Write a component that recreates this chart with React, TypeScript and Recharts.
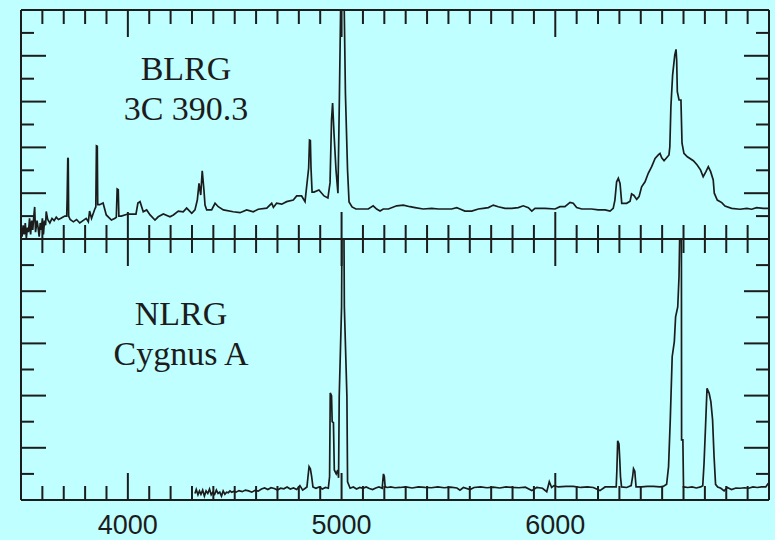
import React from "react";
import { LineChart, Line, XAxis, YAxis } from "recharts";

const INK = "#1c1c1c";
const BG = "#c0ffff";

// BLRG 3C 390.3 spectrum (wavelength in Å, relative flux)
const blrgWave = [
  3500, 3505, 3510, 3515, 3520, 3525, 3530, 3535, 3540, 3545,
  3550, 3555, 3560, 3564, 3568, 3575, 3580, 3585, 3590, 3595,
  3600, 3605, 3610, 3615, 3618, 3625, 3635, 3645, 3655, 3665,
  3675, 3685, 3695, 3705, 3714, 3716, 3719, 3721, 3723, 3730,
  3745, 3760, 3775, 3790, 3805, 3815, 3821, 3830, 3845, 3850,
  3853, 3857, 3859, 3868, 3884, 3899, 3923, 3938, 3946, 3950,
  3955, 3958, 3969, 4000, 4038, 4047, 4057, 4072, 4088, 4104,
  4127, 4142, 4166, 4197, 4213, 4236, 4259, 4275, 4299, 4314,
  4325, 4333, 4341, 4348, 4356, 4361, 4369, 4392, 4408, 4423,
  4447, 4493, 4525, 4556, 4587, 4610, 4650, 4673, 4681, 4696,
  4720, 4743, 4774, 4790, 4813, 4829, 4846, 4850, 4854, 4857,
  4862, 4871, 4894, 4918, 4936, 4946, 4953, 4958, 4965, 4974,
  4983, 4990, 4997, 5011, 5018, 5028, 5035, 5049, 5067, 5078,
  5102, 5125, 5148, 5164, 5180, 5195, 5219, 5258, 5289, 5320,
  5344, 5382, 5422, 5453, 5484, 5515, 5539, 5554, 5577, 5609,
  5640, 5663, 5687, 5710, 5733, 5765, 5796, 5827, 5850, 5874,
  5890, 5905, 5952, 5999, 6022, 6045, 6069, 6084, 6100, 6124,
  6170, 6201, 6233, 6256, 6271, 6279, 6287, 6295, 6303, 6311,
  6334, 6350, 6357, 6368, 6381, 6392, 6404, 6420, 6435, 6451,
  6467, 6482, 6490, 6498, 6509, 6521, 6532, 6536, 6541, 6549,
  6559, 6565, 6568, 6571, 6579, 6588, 6593, 6602, 6618, 6646,
  6664, 6680, 6692, 6705, 6716, 6727, 6739, 6744, 6758, 6779,
  6794, 6825, 6864, 6896, 6919, 6942, 6973, 7000,
];
const blrgFlux = [
  0.4, 0.1, 0.6, 0.2, 0.7, 0.05, 0.5, 0.3, 0.9, 0.2,
  0.8, 0.4, 1.0, 1.4, 0.3, 0.8, 0.5, 0.1, 0.7, 0.4,
  0.9, 0.2, 0.8, 0.6, 1.2, 0.85, 0.7, 0.9, 0.8, 0.95,
  0.85, 0.9, 0.95, 1.0, 1.0, 1.8, 3.55, 3.5, 1.0, 0.85,
  0.75, 0.85, 0.7, 0.8, 0.9, 0.75, 1.22, 0.9, 1.3, 1.4,
  4.07, 4.05, 1.5, 1.5, 1.57, 1.05, 0.83, 0.9, 0.95, 2.18,
  2.15, 1.0, 1.0, 1.09, 1.09, 1.57, 1.63, 1.19, 1.27, 1.05,
  0.83, 0.97, 1.09, 0.97, 1.05, 1.22, 1.19, 1.35, 1.12, 1.27,
  1.7, 2.43, 1.92, 2.98, 2.14, 1.48, 1.27, 1.27, 1.56, 1.41,
  1.27, 1.19, 1.15, 1.27, 1.19, 1.3, 1.35, 1.56, 1.38, 1.56,
  1.52, 1.63, 1.7, 1.88, 1.88, 1.63, 3.1, 4.32, 4.3, 3.1,
  2.05, 2.05, 2.14, 1.88, 1.79, 2.45, 5.2, 5.94, 4.54, 3.0,
  2.0, 6.29, 11, 11, 6.38, 3.0, 1.62, 1.4, 1.31, 1.31,
  1.31, 1.31, 1.45, 1.31, 1.22, 1.31, 1.31, 1.45, 1.48, 1.41,
  1.37, 1.31, 1.34, 1.31, 1.31, 1.31, 1.37, 1.31, 1.22, 1.22,
  1.31, 1.34, 1.37, 1.48, 1.41, 1.34, 1.34, 1.37, 1.45, 1.37,
  1.22, 1.34, 1.34, 1.31, 1.41, 1.41, 1.6, 1.56, 1.37, 1.31,
  1.31, 1.27, 1.27, 1.22, 1.34, 1.7, 2.5, 2.65, 2.43, 1.56,
  1.56, 1.65, 1.97, 1.9, 1.73, 1.85, 2.28, 2.5, 2.87, 3.16,
  3.52, 3.67, 3.74, 3.55, 3.42, 3.55, 3.67, 4.03, 5.78, 7.16,
  8.03, 8.28, 7.8, 6.43, 6.07, 6.07, 4.18, 3.74, 3.59, 3.42,
  3.23, 3.01, 2.72, 2.94, 3.16, 2.94, 2.58, 2.0, 1.7, 1.59,
  1.44, 1.34, 1.3, 1.34, 1.3, 1.37, 1.34, 1.34,
];

// NLRG Cygnus A spectrum
const nlrgWave = [
  4314, 4320, 4328, 4335, 4342, 4350, 4358, 4366, 4374, 4382,
  4390, 4398, 4406, 4414, 4422, 4430, 4438, 4446, 4454, 4462,
  4470, 4478, 4486, 4494, 4506, 4520, 4535, 4550, 4565, 4580,
  4595, 4610, 4625, 4640, 4655, 4670, 4685, 4700, 4715, 4730,
  4745, 4760, 4775, 4790, 4805, 4818, 4830, 4838, 4843, 4848,
  4854, 4860, 4866, 4880, 4895, 4910, 4925, 4938, 4944, 4947,
  4953, 4956, 4962, 4966, 4975, 4982, 4986, 4989, 5000, 5003,
  5010, 5013, 5025, 5028, 5040, 5055, 5070, 5085, 5100, 5115,
  5130, 5145, 5160, 5175, 5190, 5196, 5200, 5204, 5215, 5230,
  5250, 5273, 5300, 5330, 5360, 5390, 5420, 5450, 5480, 5510,
  5540, 5554, 5570, 5601, 5620, 5650, 5680, 5710, 5740, 5770,
  5800, 5830, 5860, 5890, 5913, 5940, 5960, 5972, 5983, 5994,
  6014, 6050, 6084, 6120, 6150, 6178, 6209, 6233, 6255, 6275,
  6285, 6288, 6292, 6298, 6302, 6305, 6310, 6334, 6355, 6362,
  6366, 6372, 6378, 6404, 6430, 6459, 6490, 6505, 6521, 6530,
  6538, 6547, 6557, 6563, 6573, 6579, 6584, 6590, 6591, 6597,
  6600, 6620, 6640, 6660, 6680, 6690, 6696, 6703, 6710, 6720,
  6728, 6736, 6743, 6750, 6760, 6775, 6790, 6805, 6825, 6845,
  6865, 6885, 6905, 6925, 6945, 6965, 6985, 6995, 7000,
];
const nlrgFlux = [
  0.25, 0.4, 0.2, 0.35, 0.22, 0.38, 0.15, 0.35, 0.25, 0.42,
  0.2, 0.3, 0.22, 0.38, 0.25, 0.3, 0.15, 0.35, 0.22, 0.3,
  0.28, 0.35, 0.3, 0.33, 0.3, 0.36, 0.32, 0.38, 0.35, 0.3,
  0.37, 0.34, 0.42, 0.46, 0.4, 0.47, 0.44, 0.38, 0.45, 0.43,
  0.5, 0.42, 0.46, 0.4, 0.55, 0.38, 0.45, 0.5, 0.9, 1.28,
  1.2, 0.9, 0.5, 0.45, 0.5, 0.42, 0.48, 0.45, 0.9, 4.1,
  4.0, 3.0, 2.96, 1.15, 1.0, 1.15, 0.85, 3.96, 7.4, 12,
  12, 7.4, 3.96, 0.7, 0.45, 0.5, 0.42, 0.48, 0.45, 0.5,
  0.44, 0.4, 0.46, 0.5, 0.45, 1.0, 0.9, 0.5, 0.48, 0.5,
  0.47, 0.48, 0.5, 0.46, 0.5, 0.48, 0.47, 0.5, 0.47, 0.49,
  0.46, 0.38, 0.48, 0.4, 0.48, 0.5, 0.47, 0.49, 0.46, 0.5,
  0.48, 0.47, 0.49, 0.36, 0.48, 0.45, 0.32, 0.7, 0.48, 0.55,
  0.5, 0.52, 0.52, 0.48, 0.5, 0.48, 0.36, 0.5, 0.5, 0.5,
  0.5, 1.1, 2.27, 2.15, 1.5, 0.9, 0.5, 0.48, 0.55, 0.9,
  1.2, 1.1, 0.5, 0.5, 0.52, 0.52, 0.5, 0.52, 0.6, 1.28,
  3.07, 5.49, 6.07, 7.02, 7.4, 8.56, 11, 11, 2.3, 2.3,
  0.5, 0.48, 0.5, 0.46, 0.5, 0.55, 1.4, 2.81, 4.28, 4.09,
  3.77, 3.07, 1.66, 0.6, 0.5, 0.45, 0.35, 0.48, 0.4, 0.46,
  0.45, 0.47, 0.45, 0.5, 0.48, 0.5, 0.5, 0.62, 0.65,
];

const xTicks = [
  3600, 3700, 3800, 3900, 4000, 4100, 4200, 4300, 4400, 4500, 4600,
  4700, 4800, 4900, 5000, 5100, 5200, 5300, 5400, 5500, 5600, 5700,
  5800, 5900, 6000, 6100, 6200, 6300, 6400, 6500, 6600, 6700, 6800, 6900,
];
const xLabels = [4000, 5000, 6000];
const yTicks = [1, 2, 3, 4, 5, 6, 7, 8, 9];
const yMajor = [2, 4, 6, 8];

const blrgData = blrgWave.map((w, i) => ({ w, f: blrgFlux[i] }));
const nlrgData = nlrgWave.map((w, i) => ({ w, f: nlrgFlux[i] }));

// ticks point inwards, so they are drawn by hand from the axis position
function xTick(side: "top" | "bottom", labels: boolean) {
  return (props: any) => {
    const { x, y, payload } = props;
    const major = xLabels.includes(payload.value);
    const len = major ? 27 : 14;
    const dy = side === "bottom" ? -len : len;
    return (
      <g>
        <line x1={x} y1={y} x2={x} y2={y + dy} stroke={INK} strokeWidth={2} />
        {labels && major && (
          <text
            x={x}
            y={y + 34}
            textAnchor="middle"
            fontSize={27}
            fontFamily="'Liberation Sans', Arial, sans-serif"
            fill={INK}
          >
            {payload.value}
          </text>
        )}
      </g>
    );
  };
}

function yTick(side: "left" | "right") {
  return (props: any) => {
    const { x, y, payload } = props;
    const len = yMajor.includes(payload.value) ? 25 : 13;
    const dx = side === "left" ? len : -len;
    return <line x1={x} y1={y} x2={x + dx} y2={y} stroke={INK} strokeWidth={2} />;
  };
}

function Panel({ data, margin, labels }: { data: any[]; margin: any; labels: boolean }) {
  const axisLine = { stroke: INK, strokeWidth: 2 };
  const common = {
    interval: 0 as const,
    tickSize: 0,
    tickMargin: 0,
    tickLine: false,
    axisLine,
    allowDataOverflow: true,
    type: "number" as const,
  };
  return (
    <LineChart width={775} height={540} data={data} margin={margin}>
      <XAxis {...common} xAxisId="b" dataKey="w" domain={[3500, 7000]} orientation="bottom" height={1} ticks={xTicks} tick={xTick("bottom", labels)} />
      <XAxis {...common} xAxisId="t" dataKey="w" domain={[3500, 7000]} orientation="top" height={1} ticks={xTicks} tick={xTick("top", false)} />
      <YAxis {...common} yAxisId="l" domain={[0, 10]} orientation="left" width={1} ticks={yTicks} tick={yTick("left")} />
      <YAxis {...common} yAxisId="r" domain={[0, 10]} orientation="right" width={1} ticks={yTicks} tick={yTick("right")} />
      <Line
        xAxisId="b"
        yAxisId="l"
        dataKey="f"
        type="linear"
        stroke={INK}
        strokeWidth={1.7}
        dot={false}
        isAnimationActive={false}
      />
    </LineChart>
  );
}

const serif = "'Liberation Serif', 'Times New Roman', serif";

export default function App() {
  return (
    <div style={{ position: "absolute", left: 0, top: 0, width: 775, height: 540, background: BG, overflow: "hidden" }}>
      <div style={{ position: "absolute", left: 0, top: 0 }}>
        <Panel data={blrgData} margin={{ top: 9, right: 5, bottom: 300, left: 20 }} labels={false} />
      </div>
      <div style={{ position: "absolute", left: 0, top: 0 }}>
        <Panel data={nlrgData} margin={{ top: 238, right: 5, bottom: 39, left: 20 }} labels={true} />
      </div>
      <svg width={775} height={540} style={{ position: "absolute", left: 0, top: 0, pointerEvents: "none" }}>
        <g fontFamily={serif} fontSize={34} fill={INK} textAnchor="middle">
          <text x={186} y={80}>BLRG</text>
          <text x={186} y={120}>3C 390.3</text>
          <text x={181} y={325}>NLRG</text>
          <text x={181} y={365}>Cygnus A</text>
        </g>
      </svg>
    </div>
  );
}
